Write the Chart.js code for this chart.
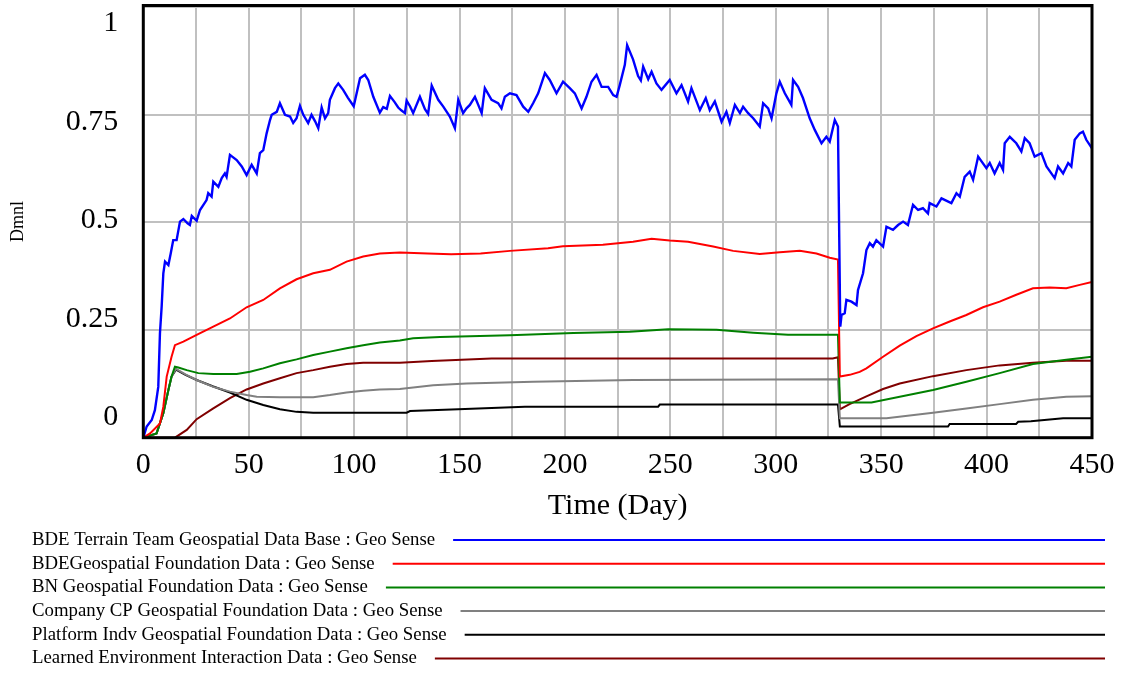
<!DOCTYPE html>
<html>
<head>
<title>Geo Sense</title>
<script src="https://cdn.jsdelivr.net/npm/chart.js"></script>
<style>
  body { margin: 0; background: #fff; }
  .chart-box { width: 1122px; height: 673px; position: relative; }
</style>
</head>
<body>
<div class="chart-box"><canvas id="geoChart"></canvas></div>
<script>
// axis ticks: grid every 25 days, labels every 50
const dayTicks = [0, 25, 50, 75, 100, 125, 150, 175, 200, 225, 250, 275, 300, 325, 350, 375, 400, 425, 450];
const valueTicks = [0, 0.25, 0.5, 0.75, 1];

const seriesNames = [
  'BDE Terrain Team Geospatial Data Base : Geo Sense',
  'BDEGeospatial Foundation Data : Geo Sense',
  'BN Geospatial Foundation Data : Geo Sense',
  'Company CP Geospatial Foundation Data : Geo Sense',
  'Platform Indv Geospatial Foundation Data : Geo Sense',
  'Learned Environment Interaction Data : Geo Sense'
];
const seriesColors = ['#0000ff', '#ff0000', '#008000', '#808080', '#000000', '#800000'];
const seriesWidths = [2.4, 2, 2, 2, 2, 2];

// [day, value]
const terrainBase = [
  [0,0],[1.6,0.026],[4,0.041],[5.5,0.064],[7.1,0.118],[7.9,0.243],[8.7,0.304],[9.5,0.382],[10.3,0.409],
  [11.9,0.401],[13,0.428],[14.2,0.459],[15.8,0.459],[17.4,0.502],[19,0.508],[21,0.498],[22.1,0.494],
  [23,0.515],[25.3,0.504],[26.9,0.529],[30,0.552],[30.8,0.568],[32.4,0.56],[33.2,0.595],[35.6,0.583],
  [37.2,0.603],[38.7,0.614],[39.5,0.606],[41.1,0.657],[44.3,0.645],[46.7,0.63],[49,0.61],[51.4,0.634],
  [53.8,0.614],[55.3,0.661],[56.9,0.668],[58.5,0.707],[60.1,0.738],[60.9,0.75],[63.3,0.757],[64.8,0.777],
  [67.2,0.75],[69.6,0.746],[71.1,0.731],[72.7,0.742],[74.3,0.771],[75.9,0.75],[78.2,0.731],[79.8,0.75],
  [81.5,0.735],[83,0.719],[84.6,0.767],[86.2,0.742],[87.7,0.754],[88.5,0.785],[90.9,0.812],[92.5,0.823],
  [94.8,0.808],[97,0.79],[99.8,0.77],[101.2,0.8],[102.8,0.835],[105.1,0.843],[106.7,0.831],[109.1,0.792],
  [112.2,0.755],[113.8,0.768],[115.5,0.764],[117,0.794],[119.3,0.779],[120.9,0.767],[122.5,0.76],
  [124.1,0.754],[124.9,0.783],[126.5,0.77],[128,0.754],[131.2,0.792],[133.6,0.763],[135.1,0.752],
  [136.8,0.818],[139.9,0.785],[142.3,0.769],[145.4,0.746],[147.8,0.719],[149.4,0.785],[151.7,0.754],
  [153.3,0.765],[154.9,0.773],[157.3,0.792],[160.5,0.754],[162,0.812],[165.2,0.785],[168.3,0.777],
  [169.9,0.765],[171.5,0.792],[173.9,0.8],[177,0.796],[180.2,0.769],[182.6,0.757],[184.9,0.777],
  [187.3,0.8],[190.5,0.847],[192.8,0.831],[196,0.8],[199.1,0.827],[202.3,0.812],[204.7,0.8],[207.9,0.765],
  [210.2,0.792],[212.6,0.827],[215,0.843],[217.4,0.815],[220.5,0.815],[222.9,0.796],[224.5,0.792],
  [226,0.819],[228.4,0.866],[229.5,0.912],[232.3,0.879],[234.7,0.84],[236,0.83],[237.1,0.862],
  [239.5,0.833],[241.1,0.85],[243.4,0.823],[245.8,0.808],[249.7,0.831],[252.9,0.8],[255.3,0.819],
  [258.4,0.781],[260,0.812],[264,0.761],[266.8,0.789],[268.7,0.761],[271.1,0.781],[274.3,0.734],
  [276.6,0.757],[278.2,0.731],[280.6,0.773],[283,0.754],[284.5,0.769],[286.9,0.754],[289.3,0.742],
  [292.4,0.723],[294,0.777],[296.4,0.765],[298,0.742],[300.3,0.8],[301.9,0.827],[304.3,0.8],[307.4,0.773],
  [308.2,0.831],[310.6,0.815],[312.9,0.789],[316.1,0.742],[318.5,0.715],[321.7,0.684],[324,0.699],
  [325.6,0.688],[328,0.738],[329.5,0.723],[330.6,0.258],[331.2,0.285],[332.7,0.289],[333.5,0.32],
  [335.9,0.316],[338.3,0.308],[339,0.343],[341.4,0.382],[343,0.436],[344.6,0.452],[346.1,0.444],
  [347.7,0.459],[350.9,0.444],[352.5,0.49],[355.6,0.483],[358,0.494],[360.4,0.502],[362.7,0.494],
  [365.1,0.541],[367.5,0.529],[369.8,0.533],[372.2,0.521],[373,0.545],[376.2,0.537],[378.6,0.556],
  [383.3,0.545],[385.7,0.568],[387.3,0.56],[389.6,0.606],[392,0.618],[393.6,0.599],[396,0.653],
  [399.9,0.626],[401.5,0.638],[403.8,0.614],[406.2,0.638],[407.8,0.622],[408.6,0.684],[411,0.699],
  [414.1,0.684],[416.5,0.665],[418.1,0.696],[420.4,0.684],[422.8,0.653],[426,0.661],[428.4,0.63],
  [432.3,0.603],[433.9,0.63],[436.3,0.614],[438.7,0.638],[440.2,0.63],[441.8,0.692],[444.2,0.707],
  [445.7,0.711],[447.3,0.692],[450,0.672]
];

const bdeFoundation = [
  [0,0],[3.2,0.01],[7.9,0.033],[9.5,0.072],[11.1,0.142],[13.4,0.188],[15,0.215],[19,0.223],[25.3,0.239],
  [33.2,0.258],[41.1,0.277],[49,0.303],[56.9,0.32],[64.8,0.347],[72.7,0.368],[80.6,0.382],[88.5,0.39],
  [96.4,0.409],[104.3,0.421],[112.2,0.428],[121.7,0.43],[135,0.428],[146,0.426],[160,0.428],[173.9,0.434],
  [192,0.44],[199,0.445],[218,0.448],[232.3,0.455],[241.1,0.462],[249.7,0.458],[258.4,0.455],[270.3,0.444],
  [279.8,0.434],[292.4,0.427],[301.9,0.431],[311.4,0.434],[319.3,0.428],[325.6,0.418],[329.5,0.414],
  [330.4,0.142],[335.1,0.146],[339.8,0.153],[343,0.161],[350.9,0.188],[358.8,0.214],[366.7,0.236],
  [374.6,0.254],[382.5,0.27],[390.4,0.285],[398.3,0.303],[406.2,0.316],[414.1,0.332],[422,0.347],
  [429.9,0.349],[437.8,0.347],[444.2,0.355],[450,0.362]
];

const bnFoundation = [
  [0,0],[6.3,0.01],[9.5,0.057],[11.9,0.111],[13.4,0.142],[15,0.165],[16.6,0.163],[20.6,0.157],[26.1,0.15],
  [33.2,0.148],[44.3,0.148],[50.6,0.153],[56.9,0.161],[64.8,0.173],[72.7,0.182],[80.6,0.192],[88.5,0.2],
  [96.4,0.208],[104.3,0.215],[112.2,0.221],[121.7,0.226],[128,0.231],[140.7,0.234],[173.9,0.238],
  [204,0.243],[230.8,0.246],[249,0.252],[271.9,0.251],[289.3,0.244],[305.8,0.239],[329.5,0.239],
  [330.4,0.082],[345.4,0.082],[358.8,0.095],[374.6,0.111],[390.4,0.13],[406.2,0.15],[422,0.171],
  [437.8,0.181],[450,0.188]
];

const companyCp = [
  [0,0],[6.3,0.01],[9.5,0.057],[11.9,0.111],[13.4,0.142],[15.5,0.16],[20,0.147],[25.3,0.134],[33.2,0.118],
  [41.1,0.107],[49,0.099],[53.8,0.095],[64.8,0.094],[80.6,0.094],[88.5,0.099],[96.4,0.105],[104.3,0.109],
  [112.2,0.112],[121.7,0.113],[137.5,0.122],[153.3,0.126],[184.9,0.13],[232.3,0.134],[329.5,0.136],
  [330.4,0.045],[352.5,0.045],[374.6,0.058],[390.4,0.068],[406.2,0.078],[422,0.088],[437.8,0.095],
  [450,0.096]
];

const platformIndv = [
  [0,0],[6.3,0.01],[9.5,0.057],[11.9,0.111],[13.4,0.142],[15.5,0.158],[20,0.146],[25.3,0.134],[33.2,0.119],
  [41.1,0.105],[49,0.088],[56.9,0.076],[64.8,0.066],[72.7,0.06],[80.6,0.058],[124.9,0.058],[126.5,0.062],
  [149.4,0.066],[181,0.072],[244.2,0.072],[245,0.077],[329.5,0.077],[330.4,0.026],[381.7,0.026],
  [382.5,0.032],[414,0.032],[415,0.037],[421,0.038],[436.3,0.045],[450,0.045]
];

const learnedEnv = [
  [0,0],[15,0],[20.6,0.018],[25.3,0.043],[33.2,0.068],[41.1,0.092],[49,0.112],[56.9,0.126],[64.8,0.138],
  [72.7,0.15],[80.6,0.157],[88.5,0.165],[96.4,0.171],[104.3,0.174],[121.7,0.174],[136.8,0.178],
  [165.2,0.184],[327,0.184],[329.5,0.187],[330.4,0.066],[335,0.078],[343,0.096],[350.9,0.113],
  [358.8,0.126],[374.6,0.143],[390.4,0.157],[406.2,0.168],[422,0.174],[437.8,0.179],[450,0.179]
];

const seriesData = [terrainBase, bdeFoundation, bnFoundation, companyCp, platformIndv, learnedEnv];

const serif = '"Liberation Serif", "Times New Roman", serif';

// heavy black box around the plot area
const plotFrame = {
  id: 'plotFrame',
  afterDatasetsDraw(chart) {
    const { ctx, chartArea: a } = chart;
    ctx.save();
    ctx.strokeStyle = '#000';
    ctx.lineWidth = 3;
    ctx.strokeRect(a.left, a.top, a.right - a.left, a.bottom - a.top);
    ctx.restore();
  }
};

// legend rows: label text followed by a long line sample
const lineLegend = {
  id: 'lineLegend',
  afterDraw(chart) {
    const ctx = chart.ctx;
    ctx.save();
    ctx.font = '18.8px ' + serif;
    ctx.textBaseline = 'middle';
    ctx.lineWidth = 2;
    chart.data.datasets.forEach((ds, i) => {
      const y = 540 + i * 23.7;
      ctx.fillStyle = '#000';
      ctx.fillText(ds.label, 32, y);
      const x0 = 32 + ctx.measureText(ds.label).width + 18;
      ctx.strokeStyle = ds.borderColor;
      ctx.beginPath();
      ctx.moveTo(x0, y);
      ctx.lineTo(1105, y);
      ctx.stroke();
    });
    ctx.restore();
  }
};

// keep edge labels from shrinking the plot area
const noEdgePadding = s => {
  s.paddingTop = 0;
  s.paddingBottom = 0;
  s.paddingLeft = 0;
  s.paddingRight = 0;
};

const datasets = seriesData.map((d, i) => ({
  label: seriesNames[i],
  data: d,
  borderColor: seriesColors[i],
  backgroundColor: seriesColors[i],
  borderWidth: seriesWidths[i],
  pointRadius: 0,
  tension: 0
}));

new Chart(document.getElementById('geoChart'), {
  type: 'line',
  data: { datasets: datasets },
  options: {
    responsive: true,
    maintainAspectRatio: false,
    animation: false,
    layout: { padding: { top: 5.5, right: 30, bottom: 148.3, left: 0 } },
    plugins: {
      legend: { display: false },
      tooltip: { enabled: false }
    },
    scales: {
      x: {
        type: 'linear',
        min: 0,
        max: 450,
        afterBuildTicks: s => { s.ticks = dayTicks.map(v => ({ value: v })); },
        afterFit: s => { s.height = 87; noEdgePadding(s); },
        border: { display: false },
        grid: { color: '#c0c0c0', lineWidth: 2, drawTicks: false },
        ticks: {
          autoSkip: false,
          maxRotation: 0,
          padding: 9,
          color: '#000',
          font: { family: serif, size: 30 },
          callback: v => (v % 50 === 0 ? String(v) : '')
        },
        title: {
          display: true,
          text: 'Time (Day)',
          color: '#000',
          font: { family: serif, size: 30 },
          padding: { top: 0, bottom: 1 }
        }
      },
      y: {
        type: 'linear',
        position: 'left',
        min: 0,
        max: 1.004,
        afterBuildTicks: s => { s.ticks = valueTicks.map(v => ({ value: v })); },
        afterFit: s => { s.width = 0; noEdgePadding(s); },
        border: { display: false },
        grid: { color: '#c0c0c0', lineWidth: 2, drawTicks: false },
        ticks: { display: false }
      },
      // tick labels sit slightly inside the grid range
      yLabels: {
        type: 'linear',
        position: 'left',
        min: -0.052,
        max: 1.045,
        afterBuildTicks: s => { s.ticks = valueTicks.map(v => ({ value: v })); },
        afterFit: s => { s.width = 143.3; noEdgePadding(s); },
        border: { display: false },
        grid: { display: false, drawTicks: false },
        ticks: {
          autoSkip: false,
          padding: 25,
          color: '#000',
          font: { family: serif, size: 30 },
          callback: v => String(v)
        },
        title: {
          display: true,
          text: 'Dmnl',
          color: '#000',
          font: { family: serif, size: 18 },
          padding: { top: 7, bottom: 0 }
        }
      }
    }
  },
  plugins: [plotFrame, lineLegend]
});
</script>
</body>
</html>
